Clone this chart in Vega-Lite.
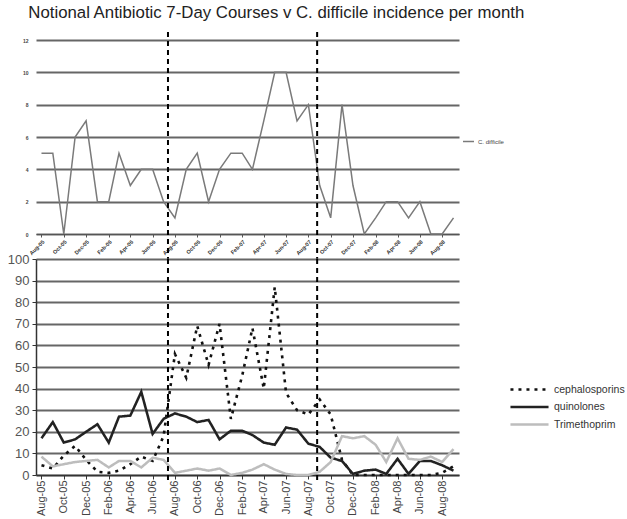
{
  "$schema": "https://vega.github.io/schema/vega-lite/v6.json",
  "background": "white",
  "padding": {"left": 7, "top": 5, "right": 0, "bottom": 0},
  "title": {"text": "Notional Antibiotic 7-Day Courses v C. difficile incidence per month", "anchor": "start", "font": "Liberation Sans", "fontSize": 16.8, "fontWeight": "normal", "color": "#222", "dx": 21, "offset": 9},
  "config": {
    "view": {"stroke": null},
    "font": "Liberation Sans",
    "axis": {"labelFont": "Liberation Sans", "titleFont": "Liberation Sans", "labelOverlap": false, "labelBound": false, "tickCount": 100}
  },
  "spacing": 25,
  "bounds": "flush",
  "datasets": {
    "cdiff": [
      {"month": "2005/08/01", "series": "C. difficile", "value": 5},
      {"month": "2005/09/01", "series": "C. difficile", "value": 5},
      {"month": "2005/10/01", "series": "C. difficile", "value": 0},
      {"month": "2005/11/01", "series": "C. difficile", "value": 6},
      {"month": "2005/12/01", "series": "C. difficile", "value": 7},
      {"month": "2006/01/01", "series": "C. difficile", "value": 2},
      {"month": "2006/02/01", "series": "C. difficile", "value": 2},
      {"month": "2006/03/01", "series": "C. difficile", "value": 5},
      {"month": "2006/04/01", "series": "C. difficile", "value": 3},
      {"month": "2006/05/01", "series": "C. difficile", "value": 4},
      {"month": "2006/06/01", "series": "C. difficile", "value": 4},
      {"month": "2006/07/01", "series": "C. difficile", "value": 2},
      {"month": "2006/08/01", "series": "C. difficile", "value": 1},
      {"month": "2006/09/01", "series": "C. difficile", "value": 4},
      {"month": "2006/10/01", "series": "C. difficile", "value": 5},
      {"month": "2006/11/01", "series": "C. difficile", "value": 2},
      {"month": "2006/12/01", "series": "C. difficile", "value": 4},
      {"month": "2007/01/01", "series": "C. difficile", "value": 5},
      {"month": "2007/02/01", "series": "C. difficile", "value": 5},
      {"month": "2007/03/01", "series": "C. difficile", "value": 4},
      {"month": "2007/04/01", "series": "C. difficile", "value": 7},
      {"month": "2007/05/01", "series": "C. difficile", "value": 10},
      {"month": "2007/06/01", "series": "C. difficile", "value": 10},
      {"month": "2007/07/01", "series": "C. difficile", "value": 7},
      {"month": "2007/08/01", "series": "C. difficile", "value": 8},
      {"month": "2007/09/01", "series": "C. difficile", "value": 3},
      {"month": "2007/10/01", "series": "C. difficile", "value": 1},
      {"month": "2007/11/01", "series": "C. difficile", "value": 8},
      {"month": "2007/12/01", "series": "C. difficile", "value": 3},
      {"month": "2008/01/01", "series": "C. difficile", "value": 0},
      {"month": "2008/02/01", "series": "C. difficile", "value": 1},
      {"month": "2008/03/01", "series": "C. difficile", "value": 2},
      {"month": "2008/04/01", "series": "C. difficile", "value": 2},
      {"month": "2008/05/01", "series": "C. difficile", "value": 1},
      {"month": "2008/06/01", "series": "C. difficile", "value": 2},
      {"month": "2008/07/01", "series": "C. difficile", "value": 0},
      {"month": "2008/08/01", "series": "C. difficile", "value": 0},
      {"month": "2008/09/01", "series": "C. difficile", "value": 1}
    ],
    "abx": [
      {"month": "2005/08/01", "cephalosporins": 4.5, "quinolones": 17, "Trimethoprim": 8.5},
      {"month": "2005/09/01", "cephalosporins": 3, "quinolones": 24.5, "Trimethoprim": 4},
      {"month": "2005/10/01", "cephalosporins": 9, "quinolones": 15, "Trimethoprim": 5},
      {"month": "2005/11/01", "cephalosporins": 13.5, "quinolones": 16.5, "Trimethoprim": 6},
      {"month": "2005/12/01", "cephalosporins": 7, "quinolones": 20, "Trimethoprim": 6.5},
      {"month": "2006/01/01", "cephalosporins": 1.5, "quinolones": 23.5, "Trimethoprim": 7},
      {"month": "2006/02/01", "cephalosporins": 1, "quinolones": 15, "Trimethoprim": 3.5},
      {"month": "2006/03/01", "cephalosporins": 2, "quinolones": 27, "Trimethoprim": 6.5},
      {"month": "2006/04/01", "cephalosporins": 5, "quinolones": 27.5, "Trimethoprim": 6.5},
      {"month": "2006/05/01", "cephalosporins": 8.5, "quinolones": 38.5, "Trimethoprim": 3.5},
      {"month": "2006/06/01", "cephalosporins": 6.5, "quinolones": 19, "Trimethoprim": 8},
      {"month": "2006/07/01", "cephalosporins": 18, "quinolones": 26, "Trimethoprim": 7},
      {"month": "2006/08/01", "cephalosporins": 56, "quinolones": 28.5, "Trimethoprim": 1},
      {"month": "2006/09/01", "cephalosporins": 45, "quinolones": 27, "Trimethoprim": 2},
      {"month": "2006/10/01", "cephalosporins": 69, "quinolones": 24.5, "Trimethoprim": 3},
      {"month": "2006/11/01", "cephalosporins": 51, "quinolones": 25.5, "Trimethoprim": 2},
      {"month": "2006/12/01", "cephalosporins": 70, "quinolones": 16.5, "Trimethoprim": 3},
      {"month": "2007/01/01", "cephalosporins": 26, "quinolones": 20.5, "Trimethoprim": 0},
      {"month": "2007/02/01", "cephalosporins": 46, "quinolones": 20.5, "Trimethoprim": 1},
      {"month": "2007/03/01", "cephalosporins": 68, "quinolones": 18.5, "Trimethoprim": 2.5},
      {"month": "2007/04/01", "cephalosporins": 40, "quinolones": 15, "Trimethoprim": 5},
      {"month": "2007/05/01", "cephalosporins": 87, "quinolones": 14, "Trimethoprim": 2.5},
      {"month": "2007/06/01", "cephalosporins": 38, "quinolones": 22, "Trimethoprim": 0.5},
      {"month": "2007/07/01", "cephalosporins": 30, "quinolones": 21, "Trimethoprim": 0},
      {"month": "2007/08/01", "cephalosporins": 28, "quinolones": 14.5, "Trimethoprim": 0},
      {"month": "2007/09/01", "cephalosporins": 35, "quinolones": 13, "Trimethoprim": 1.5},
      {"month": "2007/10/01", "cephalosporins": 28, "quinolones": 8, "Trimethoprim": 6},
      {"month": "2007/11/01", "cephalosporins": 7, "quinolones": 6.5, "Trimethoprim": 18},
      {"month": "2007/12/01", "cephalosporins": 0, "quinolones": 0.5, "Trimethoprim": 17},
      {"month": "2008/01/01", "cephalosporins": 0, "quinolones": 2, "Trimethoprim": 18},
      {"month": "2008/02/01", "cephalosporins": 0, "quinolones": 2.5, "Trimethoprim": 14},
      {"month": "2008/03/01", "cephalosporins": 0, "quinolones": 0.5, "Trimethoprim": 6},
      {"month": "2008/04/01", "cephalosporins": 0, "quinolones": 7.5, "Trimethoprim": 17},
      {"month": "2008/05/01", "cephalosporins": 0, "quinolones": 0.5, "Trimethoprim": 7.5},
      {"month": "2008/06/01", "cephalosporins": 0, "quinolones": 6.5, "Trimethoprim": 7},
      {"month": "2008/07/01", "cephalosporins": 0, "quinolones": 6.5, "Trimethoprim": 8.5},
      {"month": "2008/08/01", "cephalosporins": 1, "quinolones": 4.5, "Trimethoprim": 6},
      {"month": "2008/09/01", "cephalosporins": 4, "quinolones": 2, "Trimethoprim": 12}
    ],
    "marks": [
      {"date": "2006/07/13"},
      {"date": "2007/08/25"}
    ]
  },
  "vconcat": [
    {
      "width": 423,
      "height": 194,
      "layer": [
        {
          "data": {"name": "cdiff"},
          "mark": {"type": "line", "strokeWidth": 1.5},
          "encoding": {
            "x": {
              "field": "month", "type": "temporal",
              "scale": {"domain": [{"year": 2005, "month": 7, "date": 17}, {"year": 2008, "month": 9, "date": 16}]},
              "axis": {
                "title": null, "format": "%b-%y", "labelAngle": -45, "labelFontSize": 5.5, "labelFontWeight": "bold", "labelColor": "#333",
                "labelOverlap": false, "labelFlush": false, "tickCount": 100,
                "grid": false, "domain": true, "domainColor": "#555", "tickColor": "#555", "tickSize": 3, "labelPadding": 2,
                "values": [
                  {"year": 2005, "month": 8, "date": 1}, {"year": 2005, "month": 10, "date": 1}, {"year": 2005, "month": 12, "date": 1},
                  {"year": 2006, "month": 2, "date": 1}, {"year": 2006, "month": 4, "date": 1}, {"year": 2006, "month": 6, "date": 1},
                  {"year": 2006, "month": 8, "date": 1}, {"year": 2006, "month": 10, "date": 1}, {"year": 2006, "month": 12, "date": 1},
                  {"year": 2007, "month": 2, "date": 1}, {"year": 2007, "month": 4, "date": 1}, {"year": 2007, "month": 6, "date": 1},
                  {"year": 2007, "month": 8, "date": 1}, {"year": 2007, "month": 10, "date": 1}, {"year": 2007, "month": 12, "date": 1},
                  {"year": 2008, "month": 2, "date": 1}, {"year": 2008, "month": 4, "date": 1}, {"year": 2008, "month": 6, "date": 1},
                  {"year": 2008, "month": 8, "date": 1}
                ]
              }
            },
            "y": {
              "field": "value", "type": "quantitative",
              "scale": {"domain": [0, 12]},
              "axis": {"title": null, "values": [0, 2, 4, 6, 8, 10, 12], "format": "d", "tickCount": 100, "labelOverlap": false, "domain": false, "ticks": false, "labelFontSize": 5, "labelFontWeight": "bold", "labelColor": "#444", "labelPadding": 8, "grid": true, "gridColor": "#666", "gridWidth": 2}
            },
            "color": {
              "field": "series", "type": "nominal",
              "scale": {"domain": ["C. difficile"], "range": ["#7a7a7a"]},
              "legend": {"title": null, "orient": "none", "legendX": 426, "legendY": 95, "symbolType": "stroke", "symbolSize": 121, "symbolStrokeWidth": 1.5, "labelFontSize": 6, "labelColor": "#444", "labelOffset": 3}
            }
          }
        },
        {
          "data": {"name": "marks"},
          "mark": {"type": "rule", "color": "black", "strokeWidth": 2, "strokeDash": [5, 4]},
          "encoding": {
            "x": {"field": "date", "type": "temporal"},
            "y": {"datum": 12.5},
            "y2": {"datum": -1.6}
          }
        }
      ]
    },
    {
      "width": 423,
      "height": 216,
      "layer": [
        {
          "data": {"name": "abx"},
          "transform": [{"fold": ["cephalosporins", "quinolones", "Trimethoprim"], "as": ["series", "value"]}],
          "mark": {"type": "line"},
          "encoding": {
            "x": {
              "field": "month", "type": "temporal",
              "scale": {"domain": [{"year": 2005, "month": 7, "date": 17}, {"year": 2008, "month": 9, "date": 16}]},
              "axis": {
                "title": null, "format": "%b-%y", "labelAngle": -90, "labelFontSize": 11, "labelColor": "#444",
                "labelOverlap": false, "labelFlush": false, "tickCount": 100,
                "grid": false, "domain": true, "domainColor": "#333", "domainWidth": 1.5, "tickColor": "#333", "tickSize": 4, "labelPadding": 1,
                "values": [
                  {"year": 2005, "month": 8, "date": 1}, {"year": 2005, "month": 10, "date": 1}, {"year": 2005, "month": 12, "date": 1},
                  {"year": 2006, "month": 2, "date": 1}, {"year": 2006, "month": 4, "date": 1}, {"year": 2006, "month": 6, "date": 1},
                  {"year": 2006, "month": 8, "date": 1}, {"year": 2006, "month": 10, "date": 1}, {"year": 2006, "month": 12, "date": 1},
                  {"year": 2007, "month": 2, "date": 1}, {"year": 2007, "month": 4, "date": 1}, {"year": 2007, "month": 6, "date": 1},
                  {"year": 2007, "month": 8, "date": 1}, {"year": 2007, "month": 10, "date": 1}, {"year": 2007, "month": 12, "date": 1},
                  {"year": 2008, "month": 2, "date": 1}, {"year": 2008, "month": 4, "date": 1}, {"year": 2008, "month": 6, "date": 1},
                  {"year": 2008, "month": 8, "date": 1}
                ]
              }
            },
            "y": {
              "field": "value", "type": "quantitative",
              "scale": {"domain": [0, 100]},
              "axis": {"title": null, "values": [0, 10, 20, 30, 40, 50, 60, 70, 80, 90, 100], "format": "d", "tickCount": 100, "labelOverlap": false, "domain": true, "domainColor": "#333", "domainWidth": 1.5, "tickColor": "#333", "tickSize": 4, "labelFontSize": 13, "labelColor": "#555", "labelPadding": 3, "grid": true, "gridColor": "#666", "gridWidth": 2}
            },
            "color": {
              "field": "series", "type": "nominal",
              "scale": {"domain": ["cephalosporins", "quinolones", "Trimethoprim"], "range": ["#111", "#222", "#bdbdbd"]},
              "legend": {"title": null, "orient": "none", "legendX": 488, "legendY": 125, "symbolType": "M-5,0H5", "symbolSize": 58, "labelFontSize": 10.5, "labelColor": "#333", "labelOffset": 19, "rowPadding": 6.5}
            },
            "strokeDash": {
              "field": "series", "type": "nominal",
              "scale": {"domain": ["cephalosporins", "quinolones", "Trimethoprim"], "range": [[3, 5], [1, 0], [1, 0]]},
              "legend": {"title": null, "orient": "none", "legendX": 488, "legendY": 125, "symbolType": "M-5,0H5", "symbolSize": 58, "labelFontSize": 10.5, "labelColor": "#333", "labelOffset": 19, "rowPadding": 6.5}
            },
            "strokeWidth": {
              "field": "series", "type": "nominal",
              "scale": {"domain": ["cephalosporins", "quinolones", "Trimethoprim"], "range": [2.6, 2.5, 2]},
              "legend": {"title": null, "orient": "none", "legendX": 488, "legendY": 125, "symbolType": "M-5,0H5", "symbolSize": 58, "labelFontSize": 10.5, "labelColor": "#333", "labelOffset": 19, "rowPadding": 6.5}
            }
          }
        },
        {
          "data": {"name": "marks"},
          "mark": {"type": "rule", "color": "black", "strokeWidth": 2, "strokeDash": [5, 4]},
          "encoding": {
            "x": {"field": "date", "type": "temporal"},
            "y": {"datum": 100},
            "y2": {"datum": -3}
          }
        }
      ]
    }
  ],
  "resolve": {
    "scale": {"color": "independent", "strokeDash": "independent", "strokeWidth": "independent"},
    "legend": {"color": "independent", "strokeDash": "independent", "strokeWidth": "independent"}
  }
}
